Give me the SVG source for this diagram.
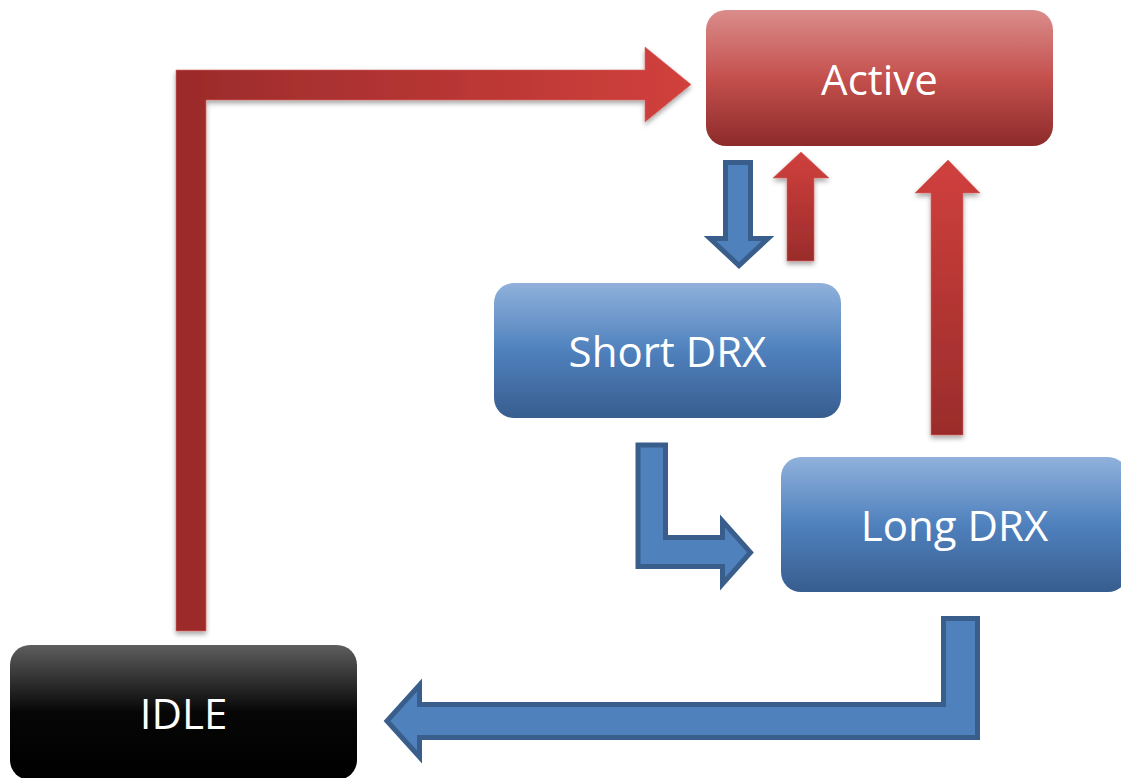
<svg xmlns="http://www.w3.org/2000/svg" width="1121" height="778" viewBox="0 0 1121 778">
  <defs>
    <linearGradient id="gRedBox" x1="0" y1="0" x2="0" y2="1">
      <stop offset="0" stop-color="#da8d8b"/>
      <stop offset="0.5" stop-color="#c4504d"/>
      <stop offset="1" stop-color="#8c2b2a"/>
    </linearGradient>
    <linearGradient id="gBlueBox" x1="0" y1="0" x2="0" y2="1">
      <stop offset="0" stop-color="#90b1db"/>
      <stop offset="0.5" stop-color="#4f81bd"/>
      <stop offset="1" stop-color="#385d8f"/>
    </linearGradient>
    <linearGradient id="gBlackBox" x1="0" y1="0" x2="0" y2="1">
      <stop offset="0" stop-color="#5e5e5e"/>
      <stop offset="0.5" stop-color="#060606"/>
      <stop offset="1" stop-color="#000000"/>
    </linearGradient>
    <linearGradient id="gRedH" gradientUnits="userSpaceOnUse" x1="176" y1="0" x2="691" y2="0">
      <stop offset="0" stop-color="#9b2b2b"/>
      <stop offset="1" stop-color="#d1403c"/>
    </linearGradient>
    <linearGradient id="gRedV" x1="0" y1="0" x2="0" y2="1">
      <stop offset="0" stop-color="#d0403d"/>
      <stop offset="1" stop-color="#9a2c2b"/>
    </linearGradient>
    <filter id="shadow" x="-20%" y="-20%" width="140%" height="140%">
      <feDropShadow dx="0" dy="3" stdDeviation="2.5" flood-color="#000" flood-opacity="0.35"/>
    </filter>
  </defs>
  <style>
    .box { stroke: none; }
    .label { font-family: "Open Sans", "Noto Sans", "DejaVu Sans", sans-serif; font-size: 42px; fill: #ffffff; text-anchor: middle; }
    .blue { fill: #4f81bd; stroke: #3a5e8c; stroke-width: 5; stroke-linejoin: miter; }
    .red { stroke: #d66563; stroke-width: 1; stroke-opacity: 0.6; filter: url(#shadow); }
  </style>

  <!-- connectors -->
  <g id="connectors">
    <!-- IDLE to Active -->
    <path class="red" fill="url(#gRedH)" d="M176,631 L176,70 L645,70 L645,47 L691,84.5 L645,122 L645,100 L206,100 L206,631 Z"/>
    <!-- Active to Short DRX -->
    <path class="blue" d="M725.5,162.5 L750.5,162.5 L750.5,238.5 L768,238.5 L739,265.5 L710,238.5 L725.5,238.5 Z"/>
    <!-- Short DRX to Active -->
    <path class="red" fill="url(#gRedV)" d="M787,261 L787,178 L773,178 L801,152 L829,178 L814,178 L814,261 Z"/>
    <!-- Long DRX to Active -->
    <path class="red" fill="url(#gRedV)" d="M931,435 L931,193 L915,193 L948,160 L980,193 L963,193 L963,435 Z"/>
    <!-- Short DRX to Long DRX -->
    <path class="blue" d="M638,445 L665.5,445 L665.5,537.5 L722.5,537.5 L722.5,521 L750.5,552.5 L722.5,584 L722.5,566.5 L638,566.5 Z"/>
    <!-- Long DRX to IDLE -->
    <path class="blue" d="M977.5,618.5 L977.5,737.5 L419.5,737.5 L419.5,757 L387,721 L419.5,685 L419.5,704.5 L943.5,704.5 L943.5,618.5 Z"/>
  </g>

  <g id="active">
    <rect class="box" x="706" y="10" width="347" height="136" rx="20" fill="url(#gRedBox)"/>
    <text class="label" x="879.5" y="94.5">Active</text>
  </g>

  <g id="short-drx">
    <rect class="box" x="494" y="283" width="347" height="135" rx="20" fill="url(#gBlueBox)"/>
    <text class="label" x="667.5" y="367">Short DRX</text>
  </g>

  <g id="long-drx">
    <rect class="box" x="781" y="457" width="347" height="135" rx="20" fill="url(#gBlueBox)"/>
    <text class="label" x="954.5" y="541">Long DRX</text>
  </g>

  <g id="idle">
    <rect class="box" x="10" y="645" width="347" height="135" rx="20" fill="url(#gBlackBox)"/>
    <text class="label" x="183.5" y="729">IDLE</text>
  </g>
</svg>
